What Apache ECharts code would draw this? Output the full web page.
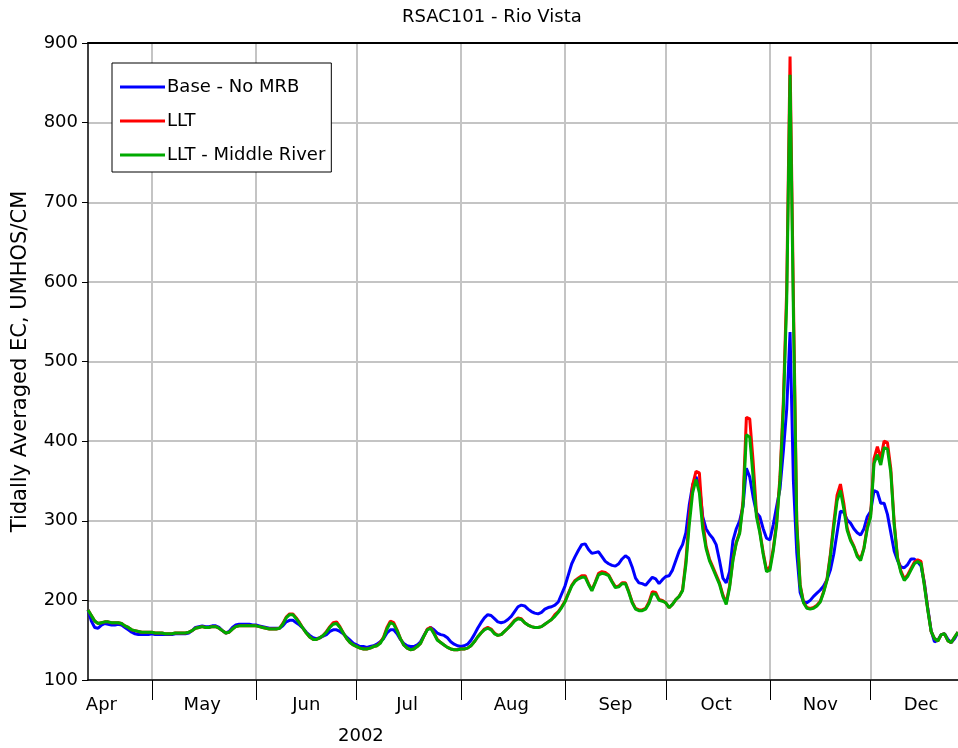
<!DOCTYPE html>
<html><head><meta charset="utf-8">
<script src="https://cdn.jsdelivr.net/npm/echarts@6/dist/echarts.min.js"></script>
<style>html,body{margin:0;padding:0;background:#fff}#c{width:958px;height:748px}</style>
</head><body><div id="c"></div>
<script>
// Daily tidally averaged EC, 2002-04-12 .. 2002-12-27
const startYear = 2002, startMonth = 3, startDay = 12; // Apr 12 (month 0-based)
const monthNames = ['Jan','Feb','Mar','Apr','May','Jun','Jul','Aug','Sep','Oct','Nov','Dec'];
const seriesNames = ['Base - No MRB', 'LLT', 'LLT - Middle River'];
const yMin = 100, yMax = 900, yStep = 100;

const baseNoMRB = [
// Apr 12-30
188,174,166,165,169,171,170,169,169,170,169,166,163,160,158,157,157,157,157,
// May
158,157,157,157,157,157,157,158,158,158,158,159,162,166,167,168,167,167,168,168,166,162,159,161,166,169,170,170,170,170,169,
// Jun
169,168,167,166,165,165,165,165,168,173,175,175,172,169,165,160,156,153,152,153,155,157,161,163,163,161,158,154,150,146,
// Jul
144,142,142,141,142,143,145,148,152,159,163,163,158,151,146,143,142,142,144,148,156,163,166,163,159,157,156,153,148,145,143,
// Aug
142,143,145,150,157,165,172,178,182,181,177,173,172,173,176,180,186,192,194,193,189,186,184,183,185,189,191,192,194,198,208,
// Sep
218,232,246,255,263,270,271,264,259,260,261,255,249,246,244,243,246,252,256,253,242,228,222,221,219,224,229,227,221,226,
// Oct
230,231,238,250,262,270,285,320,345,355,345,305,290,283,278,270,250,228,222,236,275,290,300,318,366,355,330,310,305,290,278,
// Nov
276,295,318,340,387,440,537,350,260,210,198,197,200,205,209,213,218,226,238,258,285,312,311,301,297,290,285,282,290,305,
// Dec 1-27
312,338,336,322,322,308,285,262,250,242,241,245,252,252,248,243,222,190,162,148,150,157,158,151,147,152,160
];

const llt = [
188,181,174,171,172,173,173,172,172,172,171,168,166,163,162,161,160,160,160,
160,159,159,159,158,158,158,159,159,159,159,160,162,165,166,167,166,166,167,167,165,162,159,160,164,167,168,168,168,168,168,
168,167,166,165,164,164,164,165,171,179,183,183,178,172,165,159,154,151,151,153,156,161,167,172,173,167,159,152,147,144,
142,140,139,139,140,142,143,147,154,166,174,172,163,152,144,140,138,139,142,146,155,164,166,159,151,147,144,141,139,138,138,
139,139,140,143,148,154,159,164,166,164,159,156,157,161,165,170,175,178,177,172,169,167,166,166,167,170,173,176,182,186,192,
199,209,219,225,228,231,231,221,213,223,234,236,235,232,224,217,218,222,222,211,198,190,188,188,190,198,211,210,201,200,
197,191,195,201,205,213,250,305,345,362,360,300,268,252,242,232,222,207,197,218,252,273,286,325,430,428,375,310,287,260,238,
242,265,298,355,450,590,883,580,300,220,198,191,190,191,194,199,211,227,258,297,332,346,322,291,277,268,257,252,266,293,
308,378,393,378,400,398,365,298,254,237,227,232,240,248,251,249,220,189,161,152,149,157,158,149,147,154,160
];

const lltMiddleRiver = [
188,181,174,171,172,173,173,172,172,172,171,168,166,163,162,161,160,160,160,
160,159,159,159,158,158,158,159,159,159,159,160,162,165,166,167,166,166,167,167,165,162,159,160,164,167,168,168,168,168,168,
168,167,166,165,164,164,164,165,170,178,182,182,177,171,165,159,154,151,151,153,156,160,166,170,171,166,159,152,147,144,
142,140,139,139,140,142,143,146,153,164,172,170,162,152,144,140,138,139,142,146,155,163,165,158,150,147,144,141,139,138,138,
139,139,140,143,148,154,159,163,165,163,158,156,157,161,165,169,174,177,176,172,169,167,166,166,167,170,173,176,180,185,191,
198,208,218,224,227,229,229,220,212,222,232,234,233,231,223,216,217,221,221,210,197,189,187,187,189,196,208,208,200,199,
197,191,195,201,205,212,245,295,335,352,335,290,265,250,240,230,220,205,195,216,250,272,284,320,408,405,355,305,285,258,236,
238,262,295,350,440,575,860,560,295,218,197,190,189,190,193,198,210,225,255,292,325,338,315,288,275,267,255,250,265,290,
305,372,383,370,392,390,360,295,252,235,225,230,238,246,249,246,218,188,161,152,149,157,158,149,147,154,160
];

const categories = [];
for (let i = 0; i < baseNoMRB.length; i++) {
  const d = new Date(Date.UTC(startYear, startMonth, startDay + i));
  categories.push(d.toISOString().slice(0, 10));
}

const FONT = 'DejaVu Sans';
const chart = echarts.init(document.getElementById('c'), null, {renderer: 'canvas'});
const isMonthStart = (idx, val) => val.slice(8, 10) === '01';
const isMid = (idx, val) => val.slice(8, 10) === '16';

chart.setOption({
  animation: false,
  backgroundColor: '#fff',
  title: [
    {text: 'RSAC101 - Rio Vista', left: 402, top: 8, padding: 0,
     textStyle: {fontFamily: FONT, fontSize: 18, fontWeight: 'normal', color: '#000'}},
    {text: '2002', left: 338, top: 727, padding: 0,
     textStyle: {fontFamily: FONT, fontSize: 18, fontWeight: 'normal', color: '#000'}}
  ],
  legend: {
    data: seriesNames,
    orient: 'vertical',
    left: 112, top: 63,
    padding: [15, 6, 8, 8],
    itemGap: 16,
    icon: 'rect',
    itemWidth: 45, itemHeight: 3,
    borderColor: '#000', borderWidth: 1,
    backgroundColor: '#fff',
    textStyle: {fontFamily: FONT, fontSize: 18, color: '#000', padding: [0, 0, 0, -3]}
  },
  grid: {left: 88, right: 0, top: 43, bottom: 68, containLabel: false},
  xAxis: [
    {
      type: 'category', data: categories, boundaryGap: false, position: 'bottom',
      axisLine: {show: true, onZero: false, lineStyle: {color: '#000', width: 1.5}},
      axisTick: {show: true, interval: isMonthStart, length: 20, lineStyle: {color: '#000', width: 1}},
      axisLabel: {show: true, interval: isMid, margin: 16,
        formatter: v => monthNames[+v.slice(5, 7) - 1],
        fontFamily: FONT, fontSize: 18, color: '#000'},
      splitLine: {show: true, interval: isMonthStart, lineStyle: {color: '#c4c4c4', width: 2}}
    },
    {
      type: 'category', data: categories, boundaryGap: false, position: 'top',
      axisLine: {show: true, onZero: false, lineStyle: {color: '#000', width: 2}},
      axisTick: {show: false}, axisLabel: {show: false}, splitLine: {show: false}
    }
  ],
  yAxis: {
    type: 'value', min: yMin, max: yMax, interval: yStep,
    name: 'Tidally Averaged EC, UMHOS/CM', nameLocation: 'middle', nameGap: 57,
    nameTextStyle: {fontFamily: FONT, fontSize: 21, color: '#000'},
    axisLine: {show: true, lineStyle: {color: '#000', width: 1.5}},
    axisTick: {show: true, length: 6, lineStyle: {color: '#000'}},
    axisLabel: {fontFamily: FONT, fontSize: 18, color: '#000', margin: 10},
    splitLine: {show: true, lineStyle: {color: '#c4c4c4', width: 2}}
  },
  series: [
    {name: seriesNames[0], type: 'line', data: baseNoMRB, symbol: 'none', color: '#0000ff',
     lineStyle: {width: 3, color: '#0000ff'}, z: 2},
    {name: seriesNames[1], type: 'line', data: llt, symbol: 'none', color: '#ff0000',
     lineStyle: {width: 3, color: '#ff0000'}, z: 3},
    {name: seriesNames[2], type: 'line', data: lltMiddleRiver, symbol: 'none', color: '#00aa00',
     lineStyle: {width: 3, color: '#00aa00'}, z: 4}
  ]
});
</script>
</body></html>
